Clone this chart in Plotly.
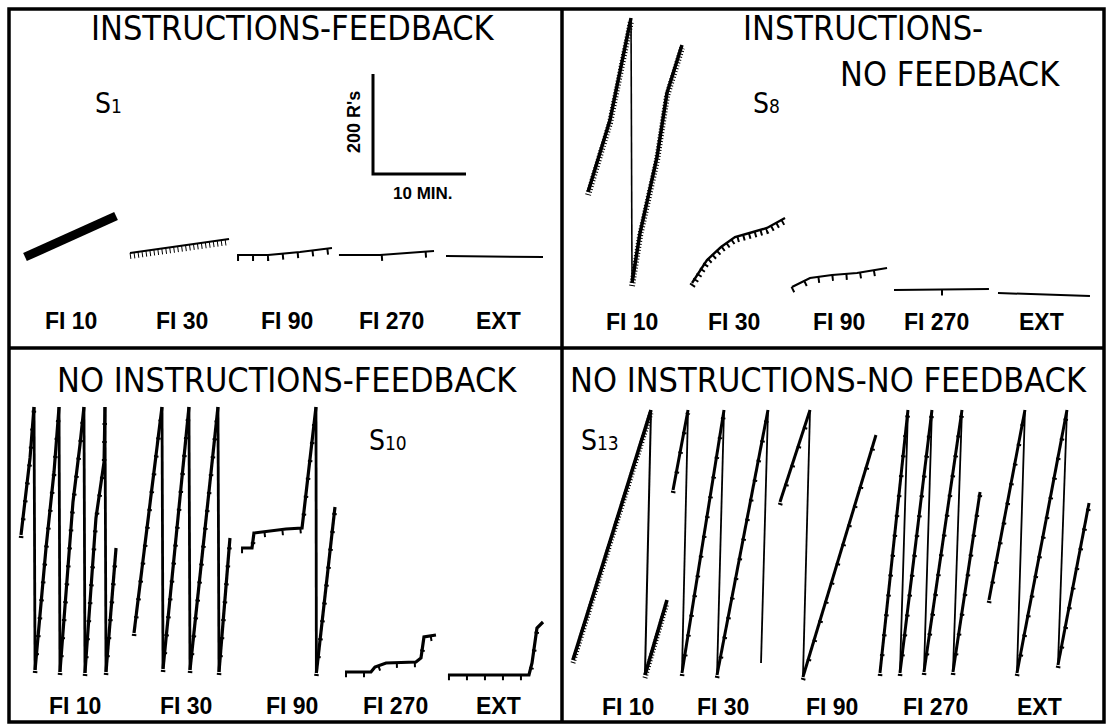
import plotly.graph_objects as go

# ---------------- data ----------------
SCHEDULES = ["FI 10", "FI 30", "FI 90", "FI 270", "EXT"]
SCALE_RESPONSES = 200
SCALE_MINUTES = 10

# Cumulative records: each record is a list of pen strokes,
# a stroke = (session minutes, cumulative responses); pen resets join strokes.
S1_FI10 = [([1.72, 11.51], [182, 264])]
S1_FI30 = [([13.01, 23.66], [190, 218])]
S1_FI90 = [([24.52, 27.85, 31.29, 34.73], [186, 186, 192, 200])]
S1_FI270 = [([35.48, 39.89, 45.70], [186, 186, 194])]
S1_EXT = [([46.99, 57.42], [184, 182])]

S8_FI10 = [([2.80, 5.16, 7.42], [312, 456, 660]),
           ([7.53, 8.39, 10.22, 11.29, 12.90], [130, 230, 382, 510, 606])]
S8_FI30 = [([13.98, 15.59, 17.10, 18.60, 20.54, 22.04, 23.98],
            [130, 176, 202, 222, 232, 240, 260])]
S8_FI90 = [([24.73, 26.67, 29.03, 31.72, 34.95], [122, 140, 146, 150, 160])]
S8_FI270 = [([35.70, 45.91], [116, 118])]
S8_EXT = [([46.88, 56.77], [110, 104])]

S10_FI10 = [([1.29, 2.26, 2.69], [374, 528, 630]),
            ([2.80, 3.98, 4.84, 5.38], [104, 348, 500, 630]),
            ([5.48, 6.88, 7.63, 8.06], [100, 440, 554, 630]),
            ([8.17, 9.35, 10.22, 10.32], [98, 408, 520, 630]),
            ([10.43, 11.51], [100, 348])]
S10_FI30 = [([13.44, 16.45], [178, 630]),
            ([16.56, 19.35], [106, 630]),
            ([19.46, 22.47], [104, 630]),
            ([22.58, 23.76], [100, 368])]
S10_FI90 = [([24.95, 26.13, 26.34, 28.06, 29.78, 31.51, 33.01],
             [348, 348, 378, 382, 386, 388, 630]),
            ([33.05, 35.05], [98, 430])]
S10_FI270 = [([36.13, 38.92, 39.35, 40.54, 43.76, 44.30, 44.62, 45.91],
              [100, 100, 110, 118, 120, 128, 170, 174])]
S10_EXT = [([47.20, 55.91, 56.24, 56.77, 57.42], [94, 94, 118, 188, 200])]

S13_FI10 = [([1.18, 9.57], [124, 624]), ([8.92, 11.29], [94, 244])]
S13_FI30 = [([11.94, 13.55], [464, 624]), ([12.90, 17.42], [98, 624]),
            ([16.67, 22.15], [94, 624]), ([21.40], [118])]
S13_FI90 = [([23.44, 26.67], [440, 624]), ([25.91, 33.76], [90, 574])]
S13_FI270 = [([34.19, 37.20], [98, 624]), ([36.34, 39.78], [98, 624]),
             ([38.92, 43.01], [100, 624]), ([42.04, 44.95], [100, 460])]
S13_EXT = [([45.91, 49.78], [244, 624]), ([48.92, 54.30], [98, 624]),
           ([53.33, 56.67], [114, 438])]

PANEL_RECORDS = {
    "TL": [S1_FI10, S1_FI30, S1_FI90, S1_FI270, S1_EXT],
    "TR": [S8_FI10, S8_FI30, S8_FI90, S8_FI270, S8_EXT],
    "BL": [S10_FI10, S10_FI30, S10_FI90, S10_FI270, S10_EXT],
    "BR": [S13_FI10, S13_FI30, S13_FI90, S13_FI270, S13_EXT],
}
PANEL_TITLES = {
    "TL": ["INSTRUCTIONS-FEEDBACK"],
    "TR": ["INSTRUCTIONS-", "NO FEEDBACK"],
    "BL": ["NO INSTRUCTIONS-FEEDBACK"],
    "BR": ["NO INSTRUCTIONS-NO FEEDBACK"],
}
PANEL_SUBJECT = {"TL": "1", "TR": "8", "BL": "10", "BR": "13"}

# ---------------- layout / style ----------------
W, H = 1113, 728
PX_PER_MIN = 9.3
PX_PER_R = 0.5
HATCH_SHIFT_PX = 3
PANELS = {  # left, top, right, bottom in px
    "TL": (9, 9, 562, 348),
    "TR": (562, 9, 1104, 348),
    "BL": (9, 348, 562, 722),
    "BR": (562, 348, 1104, 722),
}
ORDER = ["TL", "TR", "BL", "BR"]

TITLE_POS = {"TL": [(293, 28)], "TR": [(863, 28), (950, 74)],
             "BL": [(287, 380)], "BR": [(828, 380)]}
SUBJ_POS = {"TL": (108, 104), "TR": (766, 104), "BL": (388, 441), "BR": (600, 440)}
LABEL_X = {"TL": [71, 182, 287, 391, 498], "TR": [632, 734, 839, 936, 1041],
           "BL": [75, 186, 292, 395, 498], "BR": [628, 723, 832, 935, 1039]}
LABEL_Y = {"TL": 321, "TR": 322, "BL": 706, "BR": 707}

# per record style: stroke width, reset width, hatch (width, dash) for reinforcement pips
STYLE = {
    "TL": [dict(w=9, rw=2, hatch=None),
           dict(w=2, rw=2, hatch=(6, "1px,3px")),
           dict(w=2.2, rw=2, hatch=(6, "2px,13px")),
           dict(w=2, rw=2, hatch=(6, "0px,42px,2px,0px")),
           dict(w=2, rw=2, hatch=None)],
    "TR": [dict(w=3.5, rw=1.6, hatch=(6, "1px,2px")),
           dict(w=2.4, rw=2, hatch=(6, "2px,4px")),
           dict(w=2.2, rw=2, hatch=(6, "2px,12px")),
           dict(w=2, rw=2, hatch=(6, "0px,47px,2px,0px")),
           dict(w=2, rw=2, hatch=None)],
    "BL": [dict(w=3.2, rw=2.8, hatch=(4.5, "2px,16px"))] * 5,
    "BR": [dict(w=3.6, rw=2, hatch=(5, "1px,2px")),
           dict(w=3, rw=1.8, hatch=(4.5, "2px,18px")),
           dict(w=3, rw=1.8, hatch=(4.5, "2px,18px")),
           dict(w=3, rw=1.8, hatch=(4.5, "2px,18px")),
           dict(w=3, rw=1.8, hatch=(4.5, "2px,18px"))],
}

TITLE_FONT = "Liberation Sans Narrow, Arial Narrow, DejaVu Sans Condensed, Liberation Sans, sans-serif"
LABEL_FONT = "Liberation Sans, Arial, sans-serif"


def X(px):
    return px / W


def Y(py):
    return 1 - py / H


def sfx(i):
    return "" if i == 1 else str(i)


fig = go.Figure()
layout = dict(width=W, height=H, margin=dict(l=0, r=0, t=0, b=0),
              paper_bgcolor="white", plot_bgcolor="rgba(0,0,0,0)", showlegend=False)

for i, key in enumerate(ORDER, start=1):
    l, t, r, b = PANELS[key]
    yr = (b - t) / PX_PER_R
    sh = HATCH_SHIFT_PX / PX_PER_R
    layout["xaxis" + sfx(i)] = dict(domain=[X(l), X(r)], range=[0, (r - l) / PX_PER_MIN],
                                    visible=False, fixedrange=True, anchor="y" + sfx(i))
    layout["yaxis" + sfx(i)] = dict(domain=[Y(b), Y(t)], range=[0, yr],
                                    visible=False, fixedrange=True, anchor="x" + sfx(i))
    layout["yaxis" + str(i + 4)] = dict(overlaying="y" + sfx(i), range=[sh, yr + sh],
                                        visible=False, fixedrange=True, anchor="x" + sfx(i))

    xa, ya, yh = "x" + sfx(i), "y" + sfx(i), "y" + str(i + 4)
    for rec, st in zip(PANEL_RECORDS[key], STYLE[key]):
        for k, (tt, rr) in enumerate(rec):
            if k > 0:  # pen reset
                pt, pr = rec[k - 1]
                fig.add_trace(go.Scatter(x=[pt[-1], tt[0]], y=[pr[-1], rr[0]], mode="lines",
                                         line=dict(color="black", width=st["rw"]),
                                         xaxis=xa, yaxis=ya, hoverinfo="skip"))
            if len(tt) < 2:
                continue
            fig.add_trace(go.Scatter(x=tt, y=rr, mode="lines",
                                     line=dict(color="black", width=st["w"]),
                                     xaxis=xa, yaxis=ya, hoverinfo="skip"))
            if st["hatch"]:
                hw, hd = st["hatch"]
                fig.add_trace(go.Scatter(x=tt, y=rr, mode="lines",
                                         line=dict(color="black", width=hw, dash=hd),
                                         xaxis=xa, yaxis=yh, hoverinfo="skip"))

# scale bar in panel S1 (data units of responses and minutes)
SB_T0, SB_R0 = 39.14, 348
fig.add_trace(go.Scatter(x=[SB_T0, SB_T0, SB_T0 + SCALE_MINUTES],
                         y=[SB_R0 + SCALE_RESPONSES, SB_R0, SB_R0],
                         mode="lines", line=dict(color="black", width=3),
                         xaxis="x", yaxis="y", hoverinfo="skip"))

fig.update_layout(**layout)

# frame
shapes = [
    dict(type="rect", x0=X(9), x1=X(1104), y0=Y(722), y1=Y(9)),
    dict(type="line", x0=X(562), x1=X(562), y0=Y(722), y1=Y(9)),
    dict(type="line", x0=X(9), x1=X(1104), y0=Y(348), y1=Y(348)),
]
for s in shapes:
    s.update(xref="paper", yref="paper", line=dict(color="black", width=3.5))
fig.update_layout(shapes=shapes)

ann = []
for key in ORDER:
    for txt, (px, py) in zip(PANEL_TITLES[key], TITLE_POS[key]):
        ann.append(dict(text=txt, x=X(px), y=Y(py), xanchor="center", yanchor="middle",
                        font=dict(family=TITLE_FONT, size=34, color="black")))
    sx, sy = SUBJ_POS[key]
    ann.append(dict(text="S<span style='font-size:19px'>%s</span>" % PANEL_SUBJECT[key],
                    x=X(sx), y=Y(sy), xanchor="center", yanchor="middle",
                    font=dict(family=TITLE_FONT, size=28, color="black")))
    for lab, lx in zip(SCHEDULES, LABEL_X[key]):
        ann.append(dict(text="<b>%s</b>" % lab, x=X(lx), y=Y(LABEL_Y[key]),
                        xanchor="center", yanchor="middle",
                        font=dict(family=LABEL_FONT, size=23, color="black")))

ann.append(dict(text="<b>%d R's</b>" % SCALE_RESPONSES, x=X(354), y=Y(122), textangle=-90,
                xanchor="center", yanchor="middle",
                font=dict(family=LABEL_FONT, size=18, color="black")))
ann.append(dict(text="<b>%d MIN.</b>" % SCALE_MINUTES, x=X(423), y=Y(194),
                xanchor="center", yanchor="middle",
                font=dict(family=LABEL_FONT, size=17, color="black")))
for a in ann:
    a.update(xref="paper", yref="paper", showarrow=False)
fig.update_layout(annotations=ann)

fig.write_html("out.html")
